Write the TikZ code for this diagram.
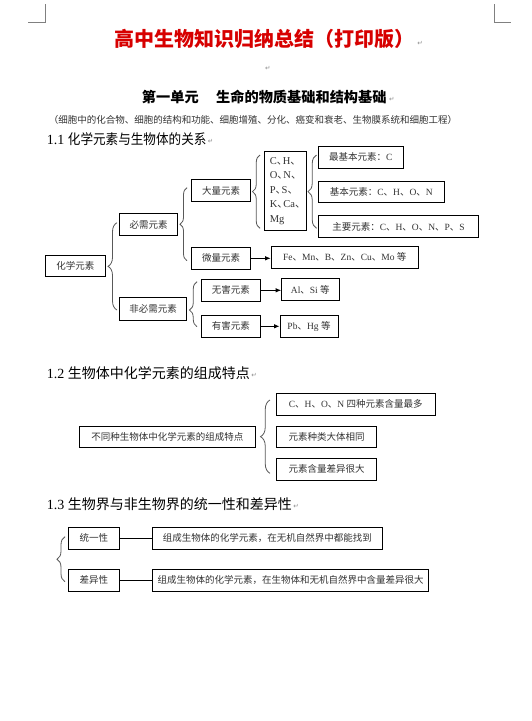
\documentclass[tikz,border=0pt]{standalone}
\usepackage{fontspec}
\usepackage{graphicx}
\setmainfont{Liberation Serif}
\newfontfamily\cjk{Noto Sans CJK SC}
\newfontfamily\symf{DejaVu Sans}
\usetikzlibrary{decorations.pathreplacing,arrows.meta,calc}
\newcommand\la[1]{{\rmfamily #1}}
\newcommand\dn{\makebox[6pt][l]{、}}
\definecolor{titred}{RGB}{215,0,0}
\begin{document}
\begin{tikzpicture}[x=1pt,y=-1pt,
  box/.style={draw=black,line width=0.9pt,inner sep=0pt,font=\cjk\fontsize{9.5}{11}\selectfont,text=black!80},
  brc/.style={decorate,decoration={brace,amplitude=#1},draw=black!65,line width=0.8pt},
  arr/.style={-{Latex[length=5.5pt,width=4.5pt]},line width=0.9pt},
  lnk/.style={line width=0.9pt},
  head/.style={anchor=west,inner sep=0pt,font=\fontsize{14}{14}\selectfont},
  retm/.style={anchor=west,inner sep=0pt,font=\symf\fontsize{6.5}{6.5}\selectfont,text=black!45},
  crop/.style={draw=black!50,line width=0.8pt}
]
\fill[white] (0,0) rectangle (532,721);
\useasboundingbox (0,0) rectangle (532,721);

% crop marks
\draw[crop] (28.3,22.7) -- (45.7,22.7) -- (45.7,4);
\draw[crop] (494.3,4) -- (494.3,22.7) -- (510.7,22.7);

% titles
\node[inner sep=0pt,font=\cjk\bfseries\fontsize{20}{20}\selectfont,text=titred] (title) at (264,39) {高中生物知识归纳总结（打印版）};
\node[retm] (r0) at ($(title.east)+(3,4)$) {↵};
\node[retm] (r1) at (265,68) {↵};
\node[anchor=west,inner sep=0pt,font=\cjk\bfseries\fontsize{14.2}{14.2}\selectfont] (unit) at (141.7,97.3) {第一单元\hspace{17.5pt}生命的物质基础和结构基础};
\node[retm] (r2) at ($(unit.east)+(2,2)$) {↵};
\node[inner sep=0pt,font=\cjk\fontsize{9.5}{9.5}\selectfont,text=black!80] (sub) at (253,119.5) {（细胞中的化合物、细胞的结构和功能、细胞增殖、分化、癌变和衰老、生物膜系统和细胞工程）};

% 1.1
\node[head] (h1) at (46.7,139) {1.1 \scalebox{0.9}[1]{\cjk 化学元素与生物体的关系}};
\node[retm] (r3) at ($(h1.east)+(1,2)$) {↵};

\node[box,minimum width=59.3pt,minimum height=21pt] (hx) at (75.3,266.2) {化学元素};
\node[box,minimum width=58.4pt,minimum height=22.4pt] (bx) at (148.5,224.5) {必需元素};
\node[box,minimum width=67.4pt,minimum height=22.7pt] (fbx) at (153,308.7) {非必需元素};
\node[box,minimum width=59.4pt,minimum height=22.4pt] (dl) at (221,190.5) {大量元素};
\node[box,minimum width=59.4pt,minimum height=22pt] (wl) at (221,258.3) {微量元素};
\node[box,minimum width=59pt,minimum height=22pt] (wh) at (230.8,290.3) {无害元素};
\node[box,minimum width=59pt,minimum height=22pt] (yh) at (230.8,326.3) {有害元素};
\node[box,minimum width=42.4pt,minimum height=79.4pt,align=left,font=\cjk\fontsize{10.5}{14.5}\selectfont] (ch) at (285.5,191) {\la{C}\dn\la{H}\dn\\\la{O}\dn\la{N}\dn\\\la{P}\dn\la{S}\dn\\\la{K}\dn\la{Ca}\dn\\\la{Mg}};
\node[box,minimum width=85pt,minimum height=22.3pt] (zjb) at (360.8,157.2) {最基本元素：\la{C}};
\node[box,minimum width=126pt,minimum height=21pt] (jb) at (381.3,192.2) {基本元素：\la{C}、\la{H}、\la{O}、\la{N}};
\node[box,minimum width=160.4pt,minimum height=22.4pt] (zy) at (398.5,226.5) {主要元素：\la{C}、\la{H}、\la{O}、\la{N}、\la{P}、\la{S}};
\node[box,minimum width=147.3pt,minimum height=22.5pt] (fe) at (344.8,257.2) {\la{Fe}、\la{Mn}、\la{B}、\la{Zn}、\la{Cu}、\la{Mo }等};
\node[box,minimum width=57.3pt,minimum height=22.4pt] (al) at (310.3,289.5) {\la{Al}、\la{Si }等};
\node[box,minimum width=58pt,minimum height=22.3pt] (pb) at (309,326.2) {\la{Pb}、\la{Hg }等};

\draw[brc=9] (117,310) -- (117,222.7);
\draw[brc=7] (187,260.7) -- (187,187.7);
\draw[brc=7.5,decoration={aspect=0.37}] (197,326.7) -- (197,281.7);
\draw[brc=7.5] (260,228.3) -- (260,155);
\draw[brc=8.5] (316.5,228.3) -- (316.5,155);

\draw[arr] (wl.east) -- (wl.east -| fe.west);
\draw[arr] (wh.east) -- (wh.east -| al.west);
\draw[arr] (yh.east) -- (yh.east -| pb.west);

% 1.2
\node[head] (h2) at (46.7,373) {1.2 {\cjk 生物体中化学元素的组成特点}};
\node[retm] (r4) at ($(h2.east)+(1,2)$) {↵};
\node[box,minimum width=176pt,minimum height=21.7pt] (tz) at (167.3,436.85) {不同种生物体中化学元素的组成特点};
\node[box,minimum width=159pt,minimum height=22pt] (chon) at (355.8,404.3) {\la{C}、\la{H}、\la{O}、\la{N }四种元素含量最多};
\node[box,minimum width=100.4pt,minimum height=21.7pt] (zl) at (326.5,436.85) {元素种类大体相同};
\node[box,minimum width=100.4pt,minimum height=21.7pt] (hl) at (326.5,469.2) {元素含量差异很大};
\draw[brc=9.5] (270,473.3) -- (270,400);

% 1.3
\node[head] (h3) at (46.7,504) {1.3 {\cjk 生物界与非生物界的统一性和差异性}};
\node[retm] (r5) at ($(h3.east)+(1,2)$) {↵};
\node[box,minimum width=51pt,minimum height=22pt] (ty) at (93.8,538.3) {统一性};
\node[box,minimum width=51pt,minimum height=22pt] (cy) at (93.8,580) {差异性};
\node[box,minimum width=230pt,minimum height=22pt] (t1) at (267.3,538.3) {组成生物体的化学元素，在无机自然界中都能找到};
\node[box,minimum width=276.4pt,minimum height=22pt] (t2) at (290.5,580) {组成生物体的化学元素，在生物体和无机自然界中含量差异很大};
\draw[brc=8] (65,581.7) -- (65,536.7);
\draw[lnk] (ty.east) -- (t1.west);
\draw[lnk] (cy.east) -- (t2.west);
\end{tikzpicture}
\end{document}
